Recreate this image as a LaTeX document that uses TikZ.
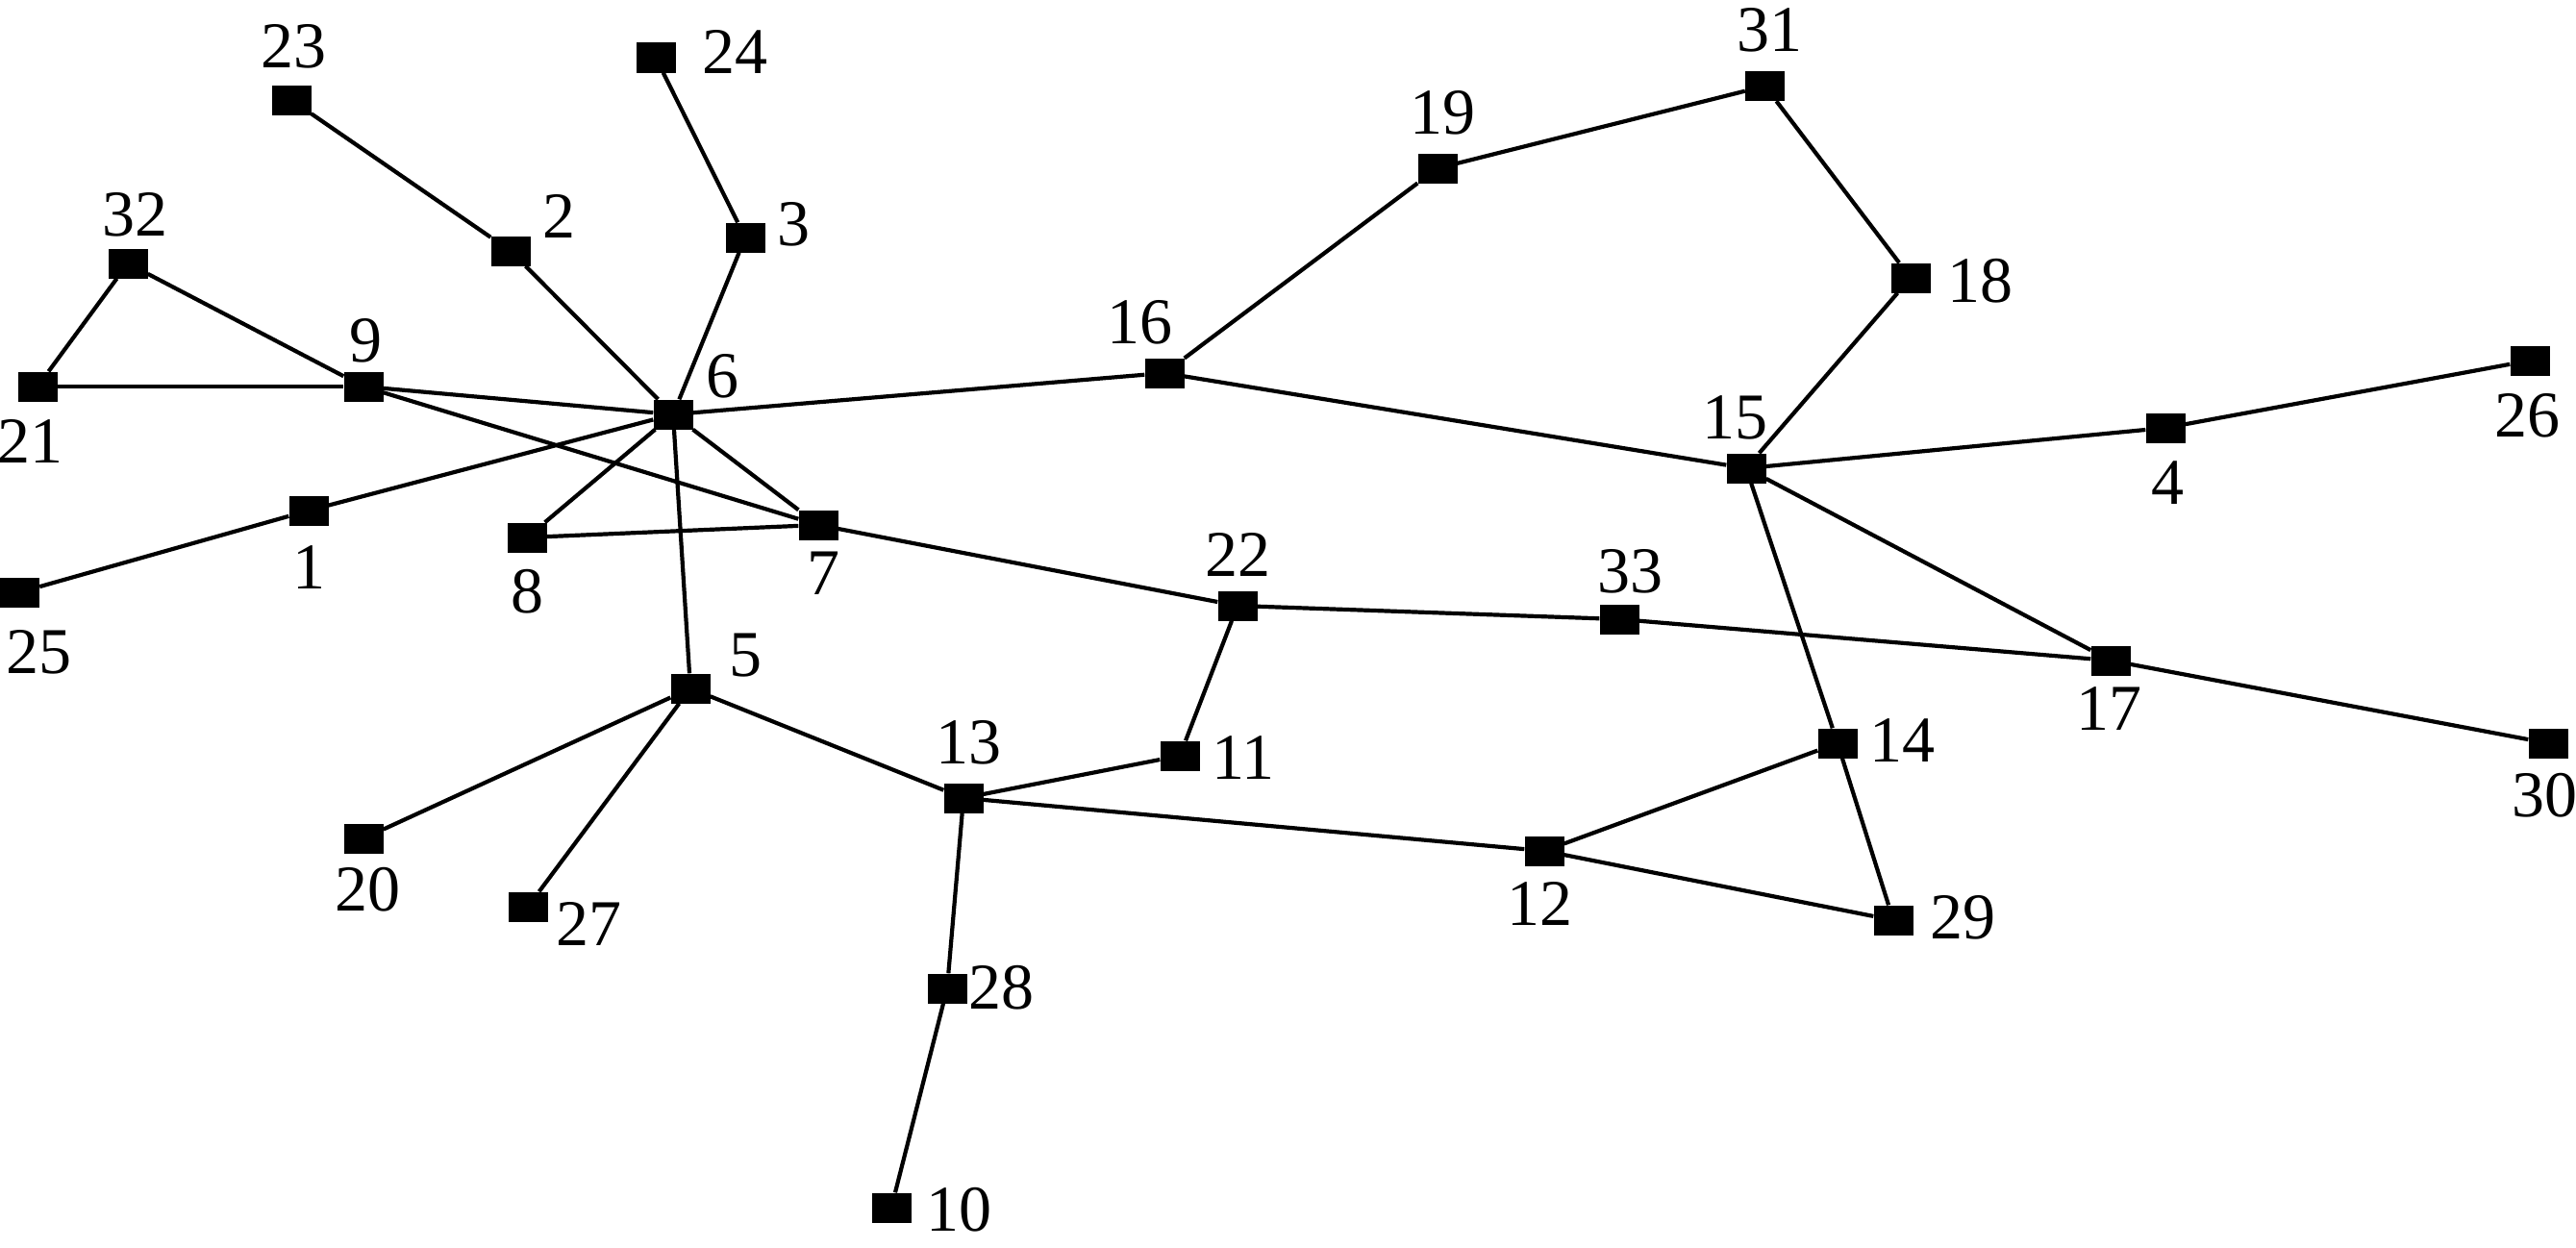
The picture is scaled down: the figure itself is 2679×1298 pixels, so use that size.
\documentclass[tikz,border=0pt]{standalone}
\usepackage{fontspec}
\setmainfont{Liberation Serif}
\tikzset{
  vert/.style={rectangle, fill=black, draw=none, minimum width=41pt, minimum height=31pt, inner sep=0pt},
  lab/.style={inner sep=0pt, font=\fontsize{68}{80}\selectfont},
  edge/.style={line width=4.2pt, black}
}
\begin{document}
\begin{tikzpicture}[x=1pt,y=-1pt]
\useasboundingbox (0,0) rectangle (2679,1298);
% vertices
\node[vert] (n1) at (321,531) {};
\node[vert] (n2) at (531,261) {};
\node[vert] (n3) at (775,247) {};
\node[vert] (n4) at (2252,445) {};
\node[vert] (n5) at (718,716) {};
\node[vert] (n6) at (700,431) {};
\node[vert] (n7) at (851,546) {};
\node[vert] (n8) at (548,559) {};
\node[vert] (n9) at (378,402) {};
\node[vert] (n10) at (927,1256) {};
\node[vert] (n11) at (1227,786) {};
\node[vert] (n12) at (1606,885) {};
\node[vert] (n13) at (1002,830) {};
\node[vert] (n14) at (1911,773) {};
\node[vert] (n15) at (1816,487) {};
\node[vert] (n16) at (1211,388) {};
\node[vert] (n17) at (2195,687) {};
\node[vert] (n18) at (1987,289) {};
\node[vert] (n19) at (1495,175) {};
\node[vert] (n20) at (378,872) {};
\node[vert] (n21) at (39,402) {};
\node[vert] (n22) at (1287,630) {};
\node[vert] (n23) at (303,104) {};
\node[vert] (n24) at (682,60) {};
\node[vert] (n25) at (20.5,616) {};
\node[vert] (n26) at (2631,375) {};
\node[vert] (n27) at (549,943) {};
\node[vert] (n28) at (985,1028) {};
\node[vert] (n29) at (1969,957) {};
\node[vert] (n30) at (2650,773) {};
\node[vert] (n31) at (1835.5,89.5) {};
\node[vert] (n32) at (133,274) {};
\node[vert] (n33) at (1684,644) {};
% labels
\node[lab] (l1) at (321,590) {1};
\node[lab] (l2) at (581,225) {2};
\node[lab] (l3) at (825,233) {3};
\node[lab] (l4) at (2254,502) {4};
\node[lab] (l5) at (775,682) {5};
\node[lab] (l6) at (751,391) {6};
\node[lab] (l7) at (856,596) {7};
\node[lab] (l8) at (548,615) {8};
\node[lab] (l9) at (380,354) {9};
\node[lab] (l10) at (997,1258) {10};
\node[lab] (l11) at (1293,788) {11};
\node[lab] (l12) at (1601,940) {12};
\node[lab] (l13) at (1007,772) {13};
\node[lab] (l14) at (1978,770) {14};
\node[lab] (l15) at (1804,434) {15};
\node[lab] (l16) at (1185,335) {16};
\node[lab] (l17) at (2193,737) {17};
\node[lab] (l18) at (2059,292) {18};
\node[lab] (l19) at (1500,117) {19};
\node[lab] (l20) at (382,925) {20};
\node[lab] (l21) at (32,459) {21};
\node[lab] (l22) at (1287,577) {22};
\node[lab] (l23) at (305,48) {23};
\node[lab] (l24) at (764.5,54) {24};
\node[lab] (l25) at (40,678) {25};
\node[lab] (l26) at (2628,432) {26};
\node[lab] (l27) at (612,961) {27};
\node[lab] (l28) at (1041,1027) {28};
\node[lab] (l29) at (2041,954) {29};
\node[lab] (l30) at (2646,827) {30};
\node[lab] (l31) at (1840,31) {31};
\node[lab] (l32) at (140,223) {32};
\node[lab] (l33) at (1695,594) {33};
% edges
\foreach \a/\b in {23/2, 2/6, 24/3, 3/6, 32/21, 32/9, 21/9, 9/6, 9/7, 6/16, 6/7, 6/8, 6/1, 1/25, 8/7, 6/5, 7/22, 16/19, 19/31, 31/18, 18/15, 16/15, 15/4, 4/26, 15/17, 15/14, 22/33, 33/17, 17/30, 22/11, 11/13, 5/13, 5/20, 5/27, 13/12, 13/28, 28/10, 12/14, 12/29, 14/29}
  \draw[edge] (n\a) -- (n\b);
\end{tikzpicture}
\end{document}
